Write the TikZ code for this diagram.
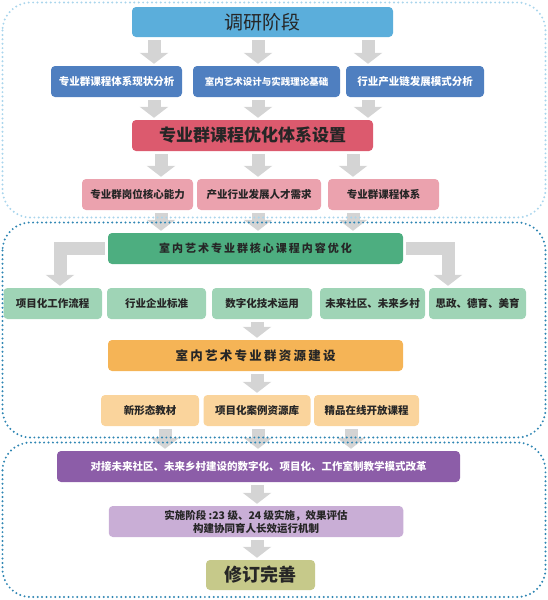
\documentclass[tikz,border=0pt]{standalone}
\usepackage{fontspec}
\setmainfont{Noto Sans CJK SC}
\newfontfamily\kuanzi{Noto Sans CJK SC}[LetterSpace=18]
\usetikzlibrary{arrows.meta}

\begin{document}
\begin{tikzpicture}[x=1pt, y=-1pt,
    kuang/.style={rounded corners=4pt, minimum height=31pt, inner sep=0pt,
                  text=black!85, font=\fontsize{10.5}{13}\selectfont\bfseries},
    jiantou/.style={draw=jiantouhui, line width=13pt,
                    -{Triangle[length=11pt,width=28pt]}, shorten <=3pt, shorten >=2pt},
    quyu/.style={rounded corners=28pt, line width=2.2pt,
                 dash pattern=on 0pt off 4.4pt, line cap=round}]

        % 定义颜色
        \definecolor{tianlan}{RGB}{91, 174, 219}
        \definecolor{zhonglan}{RGB}{79, 127, 192}
        \definecolor{meihong}{RGB}{220, 90, 110}
        \definecolor{fenhong}{RGB}{235, 162, 174}
        \definecolor{shenlv}{RGB}{77, 174, 128}
        \definecolor{qianlv}{RGB}{159, 212, 182}
        \definecolor{cheng}{RGB}{245, 180, 86}
        \definecolor{qiancheng}{RGB}{250, 212, 156}
        \definecolor{zi}{RGB}{140, 93, 168}
        \definecolor{qianzi}{RGB}{201, 174, 214}
        \definecolor{ganlan}{RGB}{198, 201, 138}
        \definecolor{jiantouhui}{RGB}{212, 212, 212}
        \definecolor{qianlan}{RGB}{169, 213, 236}
        \definecolor{shenlan}{RGB}{47, 134, 179}

        \useasboundingbox (0,0) rectangle (548,600);

        % 调研阶段
        \node[kuang, fill=tianlan, minimum width=261pt, minimum height=30pt,
              font=\fontsize{19}{22}\selectfont] (yanjiu) at (262.5,22) {调研阶段};

        \node[kuang, fill=zhonglan, text=white, minimum width=131pt] (r2a) at (116.5,81.5) {专业群课程体系现状分析};
        \node[kuang, fill=zhonglan, text=white, minimum width=147pt,
              font=\fontsize{9.5}{12}\selectfont\bfseries] (r2b) at (266.5,81.5) {室内艺术设计与实践理论基础};
        \node[kuang, fill=zhonglan, text=white, minimum width=138pt] (r2c) at (415,81.5) {行业产业链发展模式分析};

        % 优化体系设置
        \node[kuang, fill=meihong, minimum width=241pt,
              font=\fontsize{17}{20}\selectfont\bfseries] (youhua) at (252.5,135.5) {专业群课程优化体系设置};

        \node[kuang, fill=fenhong, minimum width=111pt] (p1) at (137.5,194.5) {专业群岗位核心能力};
        \node[kuang, fill=fenhong, minimum width=124pt] (p2) at (259,194.5) {产业行业发展人才需求};
        \node[kuang, fill=fenhong, minimum width=111pt] (p3) at (383.5,194.5) {专业群课程体系};

        % 核心课程内容优化
        \node[kuang, fill=shenlv, minimum width=295pt,
              font=\kuanzi\fontsize{11}{13}\selectfont\bfseries] (hexin) at (255.5,248.5) {室内艺术专业群核心课程内容优化};

        \node[kuang, fill=qianlv, minimum width=98.5pt] (g1) at (52.75,303.5) {项目化工作流程};
        \node[kuang, fill=qianlv, minimum width=99pt] (g2) at (156.5,303.5) {行业企业标准};
        \node[kuang, fill=qianlv, minimum width=100pt] (g3) at (262,303.5) {数字化技术运用};
        \node[kuang, fill=qianlv, minimum width=105pt] (g4) at (372.5,303.5) {未来社区、未来乡村};
        \node[kuang, fill=qianlv, minimum width=97pt] (g5) at (477.5,303.5) {思政、德育、美育};

        % 资源建设
        \node[kuang, fill=cheng, minimum width=295pt,
              font=\kuanzi\fontsize{12.5}{15}\selectfont\bfseries] (ziyuan) at (255.5,355.5) {室内艺术专业群资源建设};

        \node[kuang, fill=qiancheng, minimum width=98pt] (o1) at (150,410.5) {新形态教材};
        \node[kuang, fill=qiancheng, minimum width=107pt] (o2) at (257,410.5) {项目化案例资源库};
        \node[kuang, fill=qiancheng, minimum width=105pt] (o3) at (366.5,410.5) {精品在线开放课程};

        % 实施阶段
        \node[kuang, fill=zi, text=white, minimum width=403pt] (gaige) at (258.5,466.5)
              {对接未来社区、未来乡村建设的数字化、项目化、工作室制教学模式改革};
        \node[kuang, fill=qianzi, minimum width=294.5pt, align=center] (shishi) at (256,521.5)
              {实施阶段 :23 级、24 级实施，效果评估\\构建协同育人长效运行机制};
        \node[kuang, fill=ganlan, minimum width=109pt, minimum height=30pt,
              font=\fontsize{18}{21}\selectfont\bfseries] (xiuding) at (260.5,575) {修订完善};

        % 箭头
        \foreach \x/\n in {154/r2a, 258/r2b, 368/r2c} {
            \coordinate (lie) at (\x,0);
            \draw[jiantou] (yanjiu.south -| lie) -- (\n.north -| lie);
            \draw[jiantou] (\n.south -| lie) -- (youhua.north -| lie);
        }
        \foreach \x/\n in {161/p1, 258/p2, 353/p3} {
            \coordinate (lie) at (\x,0);
            \draw[jiantou] (youhua.south -| lie) -- (\n.north -| lie);
            \draw[jiantou] (\n.south -| lie) -- (hexin.north -| lie);
        }
        \coordinate (zuolie) at (60,0);
        \coordinate (youlie) at (448,0);
        \draw[jiantou, miter limit=4] (hexin.west) -| (zuolie |- g1.north);
        \draw[jiantou, miter limit=4] (hexin.east) -| (youlie |- g5.north);
        \draw[jiantou] (g3.south -| o2) -- (ziyuan.north -| o2);
        \draw[jiantou] (ziyuan.south -| o2) -- (o2.north);
        \foreach \x/\n in {165/o1, 258/o2, 351/o3} {
            \coordinate (lie) at (\x,0);
            \draw[jiantou] (\n.south -| lie) -- (gaige.north -| lie);
        }
        \draw[jiantou] (gaige.south -| o2) -- (shishi.north -| o2);
        \draw[jiantou] (shishi.south -| o2) -- (xiuding.north -| o2);

        % 三个虚线区域
        \draw[quyu, draw=qianlan] (2.5,2.5) rectangle (545.5,217.5);
        \draw[quyu, draw=shenlan] (2.5,222.5) rectangle (545.5,437.5);
        \draw[quyu, draw=shenlan] (2.5,442.5) rectangle (545.5,597);

\end{tikzpicture}
\end{document}
